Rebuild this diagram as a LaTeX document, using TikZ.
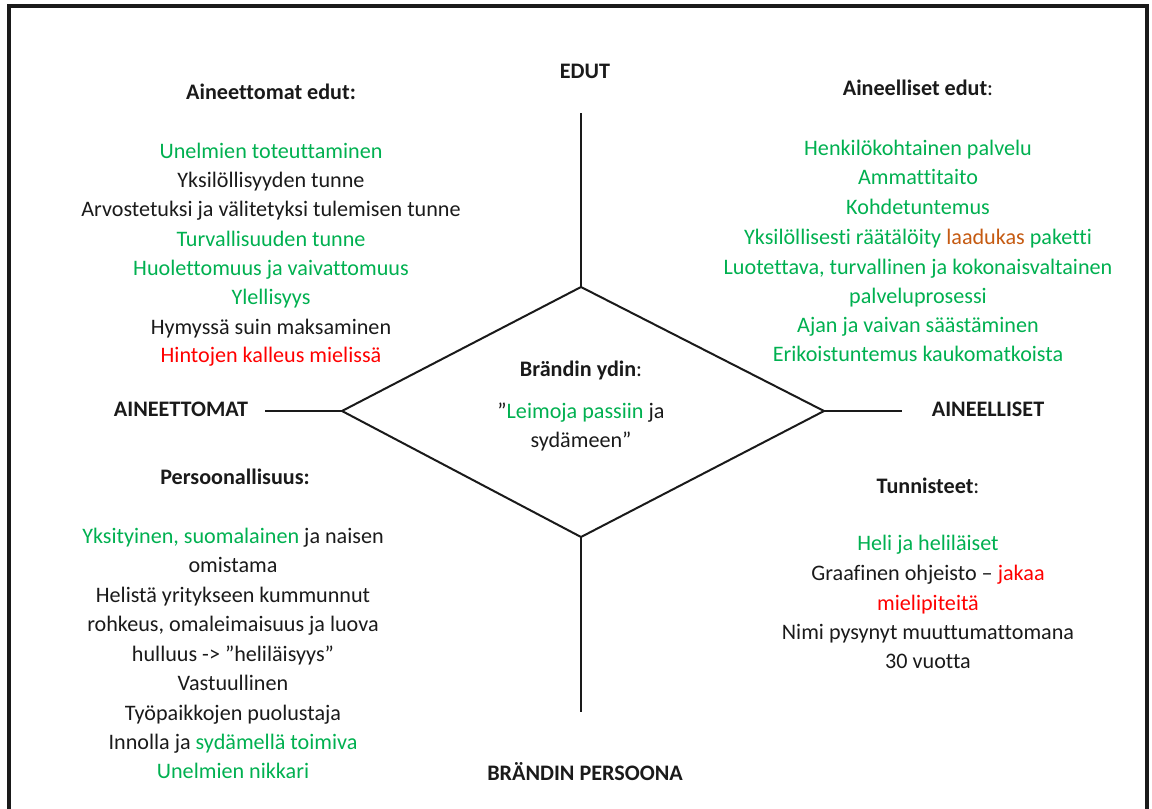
\documentclass[tikz,border=0pt]{standalone}
\usepackage{fontspec}
\setmainfont{Carlito}[Ligatures=NoCommon]
\definecolor{okgreen}{HTML}{00B050}
\definecolor{alertred}{HTML}{FF0000}
\definecolor{warnorange}{HTML}{C55A11}
\definecolor{ink}{HTML}{1A1A1A}
\begin{document}
\begin{tikzpicture}[x=0.75pt,y=-0.75pt,
  txt/.style={inner sep=0pt,yshift=-3pt,text height=1.45ex,text depth=.35ex,font=\fontsize{16.6}{20}\selectfont,text=ink},
  hdr/.style={txt,font=\fontsize{16.6}{20}\selectfont\bfseries},
  gr/.style={txt,text=okgreen},
  rd/.style={txt,text=alertred},
  axis/.style={line width=1.5pt,draw=ink},
  frame/.style={line width=2.3pt,draw=ink}]
\useasboundingbox (0,0) rectangle (1152,809);
\clip (0,0) rectangle (1152,809);
\draw[frame] (9,6) rectangle (1147,830);

% diamond corners and axis ends
\coordinate (top) at (581,287);
\coordinate (left) at (342,411);
\coordinate (right) at (824,411);
\coordinate (bot) at (581,537);
\coordinate (topEnd) at (581,113);
\coordinate (leftEnd) at (265,411);
\coordinate (rightEnd) at (902,411);
\coordinate (botEnd) at (581,712);
\draw[axis,line join=miter] (top) -- (right) -- (bot) -- (left) -- cycle;
\draw[axis] (top) -- (topEnd);
\draw[axis] (left) -- (leftEnd);
\draw[axis] (right) -- (rightEnd);
\draw[axis] (bot) -- (botEnd);

% axis labels
\node[hdr] (edut) at (585,71) {EDUT};
\node[hdr] (aineettomat) at (181,409) {AINEETTOMAT};
\node[hdr] (aineelliset) at (988,409) {AINEELLISET};
\node[hdr] (persoona) at (585,773) {BRÄNDIN PERSOONA};

% core
\node[txt] (ydin) at (581,369) {\textbf{Brändin ydin}:};
\node[txt] (ydin1) at (581,411) {”\textcolor{okgreen}{Leimoja passiin} ja};
\node[txt] (ydin2) at (581,440) {sydämeen”};

% intangible benefits
\node[hdr] (ae) at (271,92) {Aineettomat edut:};
\node[gr] (ae1) at (271,151) {Unelmien toteuttaminen};
\node[txt] (ae2) at (271,180) {Yksilöllisyyden tunne};
\node[txt] (ae3) at (271,209) {Arvostetuksi ja välitetyksi tulemisen tunne};
\node[gr] (ae4) at (271,239) {Turvallisuuden tunne};
\node[gr] (ae5) at (271,268) {Huolettomuus ja vaivattomuus};
\node[gr] (ae6) at (271,297) {Ylellisyys};
\node[txt] (ae7) at (271,327) {Hymyssä suin maksaminen};
\node[rd] (ae8) at (271,355) {Hintojen kalleus mielissä};

% tangible benefits
\node[txt] (me) at (918,88) {\textbf{Aineelliset edut}:};
\node[gr] (me1) at (918,148) {Henkilökohtainen palvelu};
\node[gr] (me2) at (918,177) {Ammattitaito};
\node[gr] (me3) at (918,207) {Kohdetuntemus};
\node[gr] (me4) at (918,237) {Yksilöllisesti räätälöity \textcolor{warnorange}{laadukas} paketti};
\node[gr] (me5) at (918,267) {Luotettava, turvallinen ja kokonaisvaltainen};
\node[gr] (me6) at (918,296) {palveluprosessi};
\node[gr] (me7) at (918,325) {Ajan ja vaivan säästäminen};
\node[gr] (me8) at (918,354) {Erikoistuntemus kaukomatkoista};

% personality
\node[hdr] (pe) at (235,477) {Persoonallisuus:};
\node[txt] (pe1) at (233,536) {\textcolor{okgreen}{Yksityinen, suomalainen} ja naisen};
\node[txt] (pe2) at (233,565) {omistama};
\node[txt] (pe3) at (233,595) {Helistä yritykseen kummunnut};
\node[txt] (pe4) at (233,624) {rohkeus, omaleimaisuus ja luova};
\node[txt] (pe5) at (233,654) {hulluus -> ”heliläisyys”};
\node[txt] (pe6) at (233,683) {Vastuullinen};
\node[txt] (pe7) at (233,713) {Työpaikkojen puolustaja};
\node[txt] (pe8) at (233,742) {Innolla ja \textcolor{okgreen}{sydämellä toimiva}};
\node[gr] (pe9) at (233,771) {Unelmien nikkari};

% identifiers
\node[txt] (tu) at (928,486) {\textbf{Tunnisteet}:};
\node[gr] (tu1) at (928,543) {Heli ja heliläiset};
\node[txt] (tu2) at (928,573) {Graafinen ohjeisto – \textcolor{alertred}{jakaa}};
\node[rd] (tu3) at (928,603) {mielipiteitä};
\node[txt] (tu4) at (928,632) {Nimi pysynyt muuttumattomana};
\node[txt] (tu5) at (928,661) {30 vuotta};
\end{tikzpicture}
\end{document}
